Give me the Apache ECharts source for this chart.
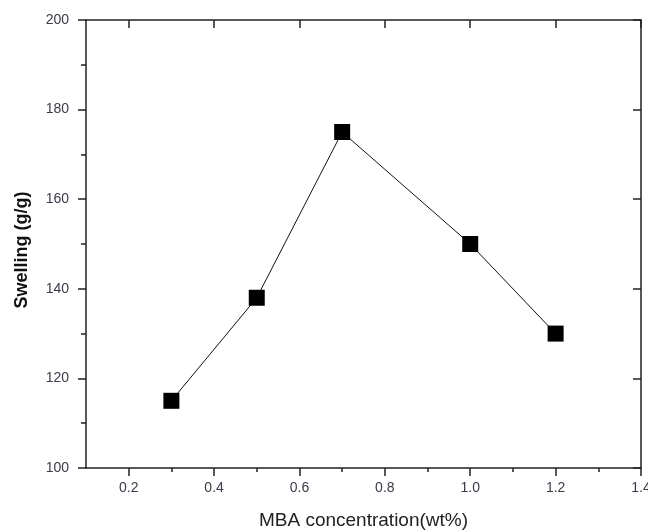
<!DOCTYPE html>
<html>
<head>
<meta charset="utf-8">
<script src="https://cdn.jsdelivr.net/npm/echarts@6/dist/echarts.min.js"></script>
<style>
html,body{margin:0;padding:0;background:#fff;}
#chart{width:648px;height:530px;}
</style>
</head>
<body>
<div id="chart"></div>
<script>
var mbaConcentration = [0.3, 0.5, 0.7, 1.0, 1.2];
var swelling = [115, 138, 175, 150, 130];
var xMajorTicks = [0.2, 0.4, 0.6, 0.8, 1.0, 1.2, 1.4];
var xMinorTicks = [0.3, 0.5, 0.7, 0.9, 1.1, 1.3];
var yTickLabels = [100, 120, 140, 160, 180, 200];

var chart = echarts.init(document.getElementById('chart'), null, {renderer: 'canvas'});
var lineColor = '#222';
var labelStyle = {color: '#3a3a48', fontSize: 14, fontFamily: 'Liberation Sans, Arial, sans-serif'};

var option = {
  animation: false,
  backgroundColor: '#fff',
  grid: {left: 86, right: 7, top: 20, bottom: 62, containLabel: false, outerBoundsMode: 'none'},
  xAxis: [
    {
      type: 'value', position: 'bottom', min: 0.1, max: 1.4, interval: 0.1,
      name: 'MBA concentration(wt%)', nameLocation: 'middle', nameGap: 43,
      nameTextStyle: {color: '#222', fontSize: 19, fontFamily: 'Liberation Sans, Arial, sans-serif'},
      axisLine: {show: true, lineStyle: {color: lineColor, width: 1.5}},
      axisTick: {show: true, inside: false, length: 8, customValues: xMajorTicks, lineStyle: {color: lineColor, width: 1.5}},
      axisLabel: Object.assign({show: true, margin: 13, customValues: xMajorTicks,
        formatter: function (v) { return v.toFixed(1); }}, labelStyle),
      splitLine: {show: false}
    },
    {
      type: 'value', position: 'bottom', min: 0.1, max: 1.4, interval: 0.1,
      axisLine: {show: false},
      axisTick: {show: true, inside: false, length: 4, customValues: xMinorTicks, lineStyle: {color: lineColor, width: 1.5}},
      axisLabel: {show: false},
      splitLine: {show: false}
    },
    {
      type: 'value', position: 'top', min: 0.1, max: 1.4, interval: 0.1,
      axisLine: {show: true, lineStyle: {color: lineColor, width: 1.5}},
      axisTick: {show: true, inside: true, length: 8, customValues: xMajorTicks, lineStyle: {color: lineColor, width: 1.5}},
      axisLabel: {show: false},
      splitLine: {show: false}
    }
  ],
  yAxis: [
    {
      type: 'value', position: 'left', min: 100, max: 200, interval: 20,
      name: 'Swelling (g/g)', nameLocation: 'middle', nameGap: 55,
      nameTextStyle: {color: '#111', fontSize: 18, fontWeight: 'bold', fontFamily: 'Liberation Sans, Arial, sans-serif',
        padding: [0, 12, 0, 0]},
      axisLine: {show: true, lineStyle: {color: lineColor, width: 1.5}},
      axisTick: {show: true, inside: false, length: 8, lineStyle: {color: lineColor, width: 1.5}},
      minorTick: {show: true, splitNumber: 2, length: 5, lineStyle: {color: lineColor, width: 1.5}},
      axisLabel: Object.assign({show: true, margin: 17, customValues: yTickLabels}, labelStyle),
      splitLine: {show: false},
      minorSplitLine: {show: false}
    },
    {
      type: 'value', position: 'right', min: 100, max: 200, interval: 20,
      axisLine: {show: true, lineStyle: {color: lineColor, width: 1.5}},
      axisTick: {show: true, inside: true, length: 8, lineStyle: {color: lineColor, width: 1.5}},
      axisLabel: {show: false},
      splitLine: {show: false}
    }
  ],
  series: [{
    type: 'line',
    xAxisIndex: 0, yAxisIndex: 0,
    data: mbaConcentration.map(function (x, i) { return [x, swelling[i]]; }),
    symbol: 'rect', symbolSize: 16,
    itemStyle: {color: '#000'},
    lineStyle: {color: '#111', width: 1},
    z: 3
  }]
};
chart.setOption(option);
</script>
</body>
</html>
